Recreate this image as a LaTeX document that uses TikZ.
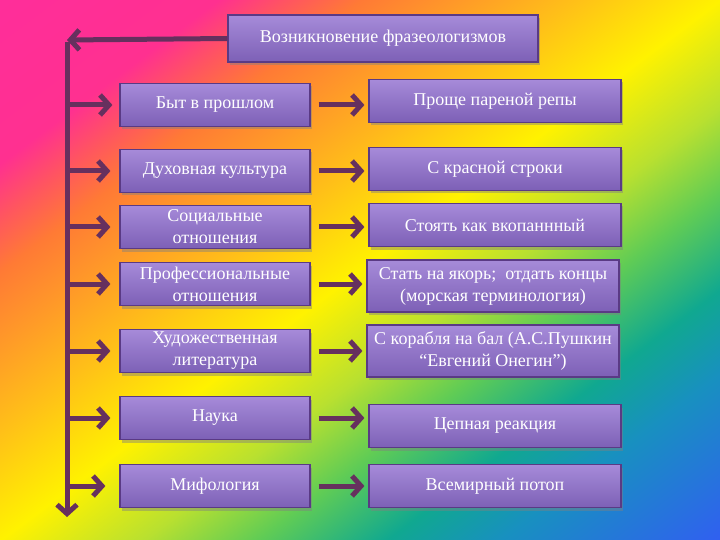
\documentclass[tikz,border=0pt]{standalone}
\usepackage{fontspec}
\setmainfont{Liberation Serif}
\usetikzlibrary{arrows.meta, shadows}

\definecolor{boxtop}{HTML}{A68BD9}
\definecolor{boxbot}{HTML}{7D60B6}
\definecolor{boxedge}{HTML}{5A3A85}
\definecolor{linkcol}{HTML}{66305E}
\definecolor{rbmag}{HTML}{FF2E9A}
\definecolor{rbpink}{HTML}{FF3090}
\definecolor{rbred}{HTML}{FF5560}
\definecolor{rborange}{HTML}{FF7A35}
\definecolor{rbamber}{HTML}{FF9A28}
\definecolor{rbgold}{HTML}{FFC018}
\definecolor{rbyellow}{HTML}{FFF200}
\definecolor{rblime}{HTML}{B8E030}
\definecolor{rbgreen}{HTML}{60CC55}
\definecolor{rbteal}{HTML}{10A890}
\definecolor{rbsky}{HTML}{1890C0}
\definecolor{rbblue}{HTML}{3060F0}

\pgfdeclarehorizontalshading{rainbow}{100bp}{color(0bp)=(rbmag); color(14.6bp)=(rbmag); color(25.2bp)=(rbpink); color(28.7bp)=(rbred); color(32.3bp)=(rborange); color(37.2bp)=(rbamber); color(42.9bp)=(rbgold); color(50bp)=(rbyellow); color(57.1bp)=(rblime); color(62.7bp)=(rbgreen); color(69.1bp)=(rbteal); color(74.7bp)=(rbsky); color(85.4bp)=(rbblue); color(100bp)=(rbblue)}

\begin{document}
\begin{tikzpicture}[x=1pt, y=-1pt,
	box/.style = {draw=boxedge, line width=1.2pt, top color=boxtop, bottom color=boxbot, text=white, align=center, font=\fontsize{18}{22}\selectfont, inner sep=1pt, drop shadow={shadow xshift=2pt, shadow yshift=-3pt, opacity=0.45}},
	leftbox/.style = {box, minimum width=190pt, minimum height=43pt},
	rightbox/.style = {box, minimum width=252pt, minimum height=43pt},
	link/.style = {draw=linkcol, line width=5pt, -{Straight Barb[length=9pt, width=20pt]}}]
	\begin{scope}[transform canvas={xscale=1.3333}]
		\shade[shading=rainbow, shading angle=-45] (0,0) rectangle (540,540);
	\end{scope}
	\useasboundingbox (0,0) rectangle (720,540);

	% spine
	\coordinate (top) at (67, 40);
	\coordinate (bottom) at (67, 517);

	\node[box, minimum width=310pt, minimum height=47pt] (title) at (383, 38.5) {Возникновение фразеологизмов};

	% sources
	\node[leftbox] (l1) at (215, 105) {Быт в прошлом};
	\node[leftbox] (l2) at (215, 171) {Духовная культура};
	\node[leftbox] (l3) at (215, 227) {Социальные\\отношения};
	\node[leftbox] (l4) at (215, 284) {Профессиональные\\отношения};
	\node[leftbox] (l5) at (215, 351) {Художественная\\литература};
	\node[leftbox] (l6) at (215, 418) {Наука};
	\node[leftbox] (l7) at (215, 486) {Мифология};

	% examples
	\node[rightbox] (r1) at (495, 101) {Проще пареной репы};
	\node[rightbox] (r2) at (495, 169) {С красной строки};
	\node[rightbox] (r3) at (495, 225) {Стоять как вкопаннный};
	\node[rightbox, minimum height=52pt] (r4) at (493, 286) {Стать на якорь;\ \ отдать концы\\(морская терминология)};
	\node[rightbox, minimum height=52pt] (r5) at (493, 351) {С корабля на бал (А.С.Пушкин\\“Евгений Онегин”)};
	\node[rightbox] (r6) at (495, 426) {Цепная реакция};
	\node[rightbox] (r7) at (495, 486) {Всемирный потоп};

	\draw[link] (title.west) -- (top);
	\draw[link] ([yshift=-2.5pt]top) -- (bottom);

	\draw[link, shorten >=7pt] (top |- l1.west) -- (l1.west);
	\draw[link, shorten >=9pt] (top |- l2.west) -- (l2.west);
	\draw[link, shorten >=9pt] (top |- l3.west) -- (l3.west);
	\draw[link, shorten >=9pt] (top |- l4.west) -- (l4.west);
	\draw[link, shorten >=9pt] (top |- l5.west) -- (l5.west);
	\draw[link, shorten >=9pt] (top |- l6.west) -- (l6.west);
	\draw[link, shorten >=14pt] (top |- l7.west) -- (l7.west);

	\draw[link, shorten <=8pt, shorten >=4pt] (l1.east) -- (l1.east -| r1.west);
	\draw[link, shorten <=8pt, shorten >=4pt] (l2.east) -- (l2.east -| r2.west);
	\draw[link, shorten <=8pt, shorten >=4pt] (l3.east) -- (l3.east -| r3.west);
	\draw[link, shorten <=8pt, shorten >=4pt] (l4.east) -- (l4.east -| r4.west);
	\draw[link, shorten <=8pt, shorten >=4pt] (l5.east) -- (l5.east -| r5.west);
	\draw[link, shorten <=8pt, shorten >=4pt] (l6.east) -- (l6.east -| r6.west);
	\draw[link, shorten <=8pt, shorten >=4pt] (l7.east) -- (l7.east -| r7.west);
\end{tikzpicture}
\end{document}
